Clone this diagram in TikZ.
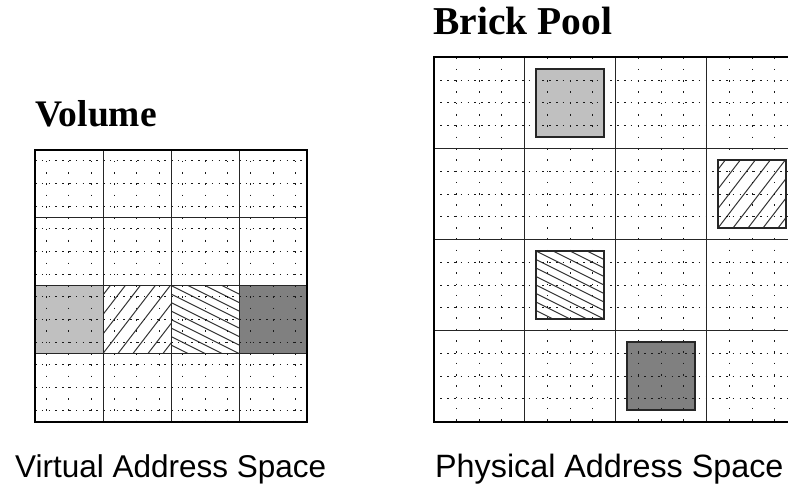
\documentclass[tikz,border=0pt]{standalone}
\usepackage{fontspec}
\setmainfont{Liberation Serif}
\setsansfont{Liberation Sans}
\definecolor{brickLight}{HTML}{C0C0C0}
\definecolor{brickDark}{HTML}{808080}
\begin{document}
\begin{tikzpicture}[x=1pt,y=-1pt,
  gridline/.style={line width=1pt,black!85},
  outerline/.style={line width=2pt,black},
  dotH/.style={line width=1pt,black!90,dash pattern=on 1.6pt off 5.2pt},
  dotV/.style={line width=1pt,black!90,dash pattern=on 1.6pt off 9.7pt},
  hatchline/.style={line width=1pt,black!80},
  boxline/.style={line width=1.1pt,black!85},
  title/.style={font=\bfseries,inner sep=0pt,anchor=base west},
  caption/.style={font=\sffamily,inner sep=0pt,anchor=base west}]
\useasboundingbox (0,0) rectangle (788,487);
\clip (0,0) rectangle (788,487);

% ---------- Left: Volume ----------
\def\Lx{35}\def\Ly{149.5}
\fill[brickLight] (\Lx,\Ly+136) rectangle ++(68,68);
\fill[brickDark] (\Lx+204,\Ly+136) rectangle ++(68,68);
% NE hatch, col1 row2
\begin{scope}
  \clip (\Lx+68,\Ly+136) rectangle ++(68,68);
  \foreach \k in {-6,...,6}
    \draw[hatchline] (\Lx+68+\k*15,\Ly+204) -- ++(52.3,-68);
\end{scope}
% SE hatch, col2 row2
\begin{scope}
  \clip (\Lx+136,\Ly+136) rectangle ++(68,68);
  \foreach \k in {-5,...,9}
    \draw[hatchline] (\Lx+136,\Ly+136+\k*8.5) -- ++(68,34);
\end{scope}
% dotted sub-grid
\foreach \i in {0,...,11}{
  \draw[dotV] (\Lx+11.33+\i*22.667,\Ly) -- (\Lx+11.33+\i*22.667,\Ly+272);
  \draw[dotH] (\Lx,\Ly+11.33+\i*22.667) -- (\Lx+272,\Ly+11.33+\i*22.667);
}
\foreach \i in {1,2,3}{
  \draw[gridline] (\Lx+\i*68,\Ly) -- (\Lx+\i*68,\Ly+272);
  \draw[gridline] (\Lx,\Ly+\i*68) -- (\Lx+272,\Ly+\i*68);
}
\draw[gridline] (\Lx+68,\Ly+136) rectangle ++(136,68);
\draw[outerline] (\Lx,\Ly) rectangle ++(272,272);

% ---------- Right: Brick Pool ----------
\def\Rx{433.5}\def\Ry{57.5}
\fill[brickLight] (\Rx+91+11.5,\Ry+11.5) rectangle ++(68,68);
\fill[brickDark] (\Rx+182+11.5,\Ry+273+11.5) rectangle ++(68,68);
\begin{scope}
  \clip (\Rx+273+11.5,\Ry+91+11.5) rectangle ++(68,68);
  \foreach \k in {-6,...,6}
    \draw[hatchline] (\Rx+273+11.5+\k*15,\Ry+91+79.5) -- ++(52.3,-68);
\end{scope}
\begin{scope}
  \clip (\Rx+91+11.5,\Ry+182+11.5) rectangle ++(68,68);
  \foreach \k in {-5,...,9}
    \draw[hatchline] (\Rx+91+11.5,\Ry+182+11.5+\k*8.5) -- ++(68,34);
\end{scope}
\foreach \i in {1,...,15}{
  \draw[dotV] (\Rx+\i*22.75,\Ry) -- (\Rx+\i*22.75,\Ry+364);
  \draw[dotH] (\Rx,\Ry+\i*22.75) -- (\Rx+364,\Ry+\i*22.75);
}
\draw[boxline] (\Rx+91+11.5,\Ry+11.5) rectangle ++(68,68);
\draw[boxline] (\Rx+273+11.5,\Ry+91+11.5) rectangle ++(68,68);
\draw[boxline] (\Rx+91+11.5,\Ry+182+11.5) rectangle ++(68,68);
\draw[boxline] (\Rx+182+11.5,\Ry+273+11.5) rectangle ++(68,68);
\foreach \i in {1,2,3}{
  \draw[gridline] (\Rx+\i*91,\Ry) -- (\Rx+\i*91,\Ry+364);
  \draw[gridline] (\Rx,\Ry+\i*91) -- (\Rx+364,\Ry+\i*91);
}
\draw[outerline] (\Rx,\Ry) rectangle ++(364,364);

% ---------- Texts ----------
\node[title] (vol) at (35,127) {\fontsize{37.5}{40}\selectfont Volume};
\node[title] (pool) at (433,35) {\fontsize{39.5}{42}\selectfont Brick Pool};
\node[caption] (vas) at (15,477) {\fontsize{31.5}{36}\selectfont Virtual Address Space};
\node[caption] (pas) at (435,477) {\fontsize{32.3}{36}\selectfont Physical Address Space};
\end{tikzpicture}
\end{document}
